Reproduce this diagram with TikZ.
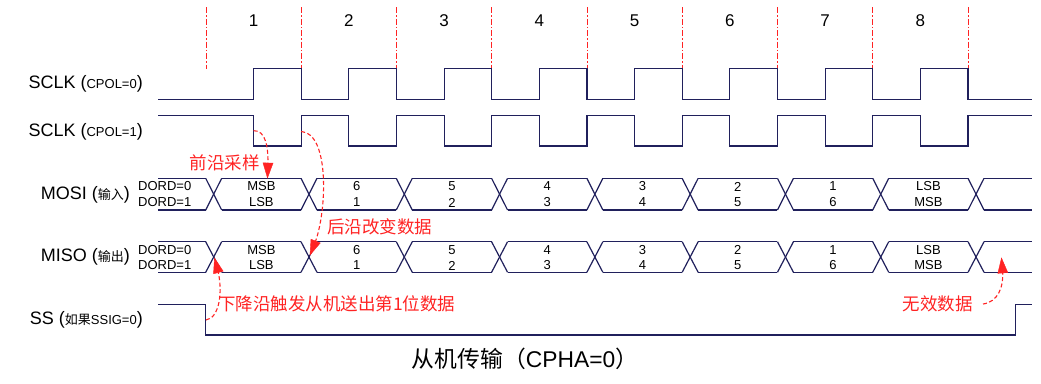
\documentclass[tikz,border=0pt]{standalone}
\usepackage{fontspec}
\setmainfont{Liberation Sans}
\newfontfamily\cjk{Noto Sans CJK SC}
\usetikzlibrary{arrows.meta,calc}
\definecolor{sig}{RGB}{32,32,92}
\definecolor{ann}{RGB}{255,35,35}
\newcommand\smtxt[1]{{\fontsize{13}{15}\selectfont #1}}
\newcommand\smcjk[1]{{\cjk\fontsize{13}{15}\selectfont #1}}
\tikzset{
  wave/.style={draw=sig, line width=1.2pt, line join=miter},
  guide/.style={draw=ann, line width=1pt, dash pattern=on 6pt off 2pt on 1.5pt off 2pt},
  siglabel/.style={inner sep=0pt, font=\fontsize{18}{21}\selectfont, text=black},
  datatxt/.style={inner sep=0pt, font=\fontsize{13}{15}\selectfont, text=black},
  numtxt/.style={inner sep=0pt, font=\fontsize{17}{20}\selectfont, text=black},
  anntxt/.style={inner sep=0pt, font=\cjk\fontsize{17.5}{20}\selectfont, text=ann},
  annarrow/.style={draw=ann, line width=1.1pt, dash pattern=on 4pt off 2.5pt},
  anntip/.style={fill=ann, draw=ann, line width=0.4pt, line join=miter},
}
\begin{document}
\begin{tikzpicture}[x=1pt,y=-1pt]
\useasboundingbox (0,0) rectangle (1041,383);

% red guide lines and bit numbers
\foreach \k in {0,...,8}{
  \draw[guide] ({206+95.25*\k},7) -- ({206+95.25*\k},68.5);
}
\foreach \k in {1,...,8}{
  \node[numtxt] (num\k) at ({206+95.25*(\k-0.5)},21) {\k};
}

% SCLK CPOL=0
\draw[wave] (158,99.5)
  \foreach \k in {0,...,7}{
    -- ({206+95.25*\k+47.625},99.5) -- ({206+95.25*\k+47.625},68.5)
    -- ({206+95.25*(\k+1)},68.5) -- ({206+95.25*(\k+1)},99.5)
  } -- (1031.7,99.5);
% SCLK CPOL=1
\draw[wave] (158,115.7)
  \foreach \k in {0,...,7}{
    -- ({206+95.25*\k+47.625},115.7) -- ({206+95.25*\k+47.625},146)
    -- ({206+95.25*(\k+1)},146) -- ({206+95.25*(\k+1)},115.7)
  } -- (1031.7,115.7);

% data buses
\foreach \T/\B in {178.3/210, 241.7/272.3}{
  \draw[wave] (158,\T) -- (205.7,\T);
  \draw[wave] (158,\B) -- (205.7,\B);
  \foreach \k in {0,...,8}{
    \draw[wave] ({213.7+95.29*\k-8},\T) -- ({213.7+95.29*\k+8},\B);
    \draw[wave] ({213.7+95.29*\k-8},\B) -- ({213.7+95.29*\k+8},\T);
  }
  \foreach \k in {0,...,7}{
    \draw[wave] ({213.7+95.29*\k+8},\T) -- ({213.7+95.29*(\k+1)-8},\T);
    \draw[wave] ({213.7+95.29*\k+8},\B) -- ({213.7+95.29*(\k+1)-8},\B);
  }
  \draw[wave] (984,\T) -- (1031.7,\T);
  \draw[wave] (984,\B) -- (1031.7,\B);
}
\foreach \k/\a/\b in {0/MSB/LSB,1/6/1,2/5/2,3/4/3,4/3/4,5/2/5,6/1/6,7/LSB/MSB}{
  \node[datatxt] (mosia\k) at ({213.7+95.29*(\k+0.5)},186.5) {\a};
  \node[datatxt] (mosib\k) at ({213.7+95.29*(\k+0.5)},202.5) {\b};
  \node[datatxt] (misoa\k) at ({213.7+95.29*(\k+0.5)},250) {\a};
  \node[datatxt] (misob\k) at ({213.7+95.29*(\k+0.5)},265.5) {\b};
}
\node[datatxt, anchor=west] (dmo0) at (138,186.5) {DORD=0};
\node[datatxt, anchor=west] (dmo1) at (138,202.5) {DORD=1};
\node[datatxt, anchor=west] (dmi0) at (138,250) {DORD=0};
\node[datatxt, anchor=west] (dmi1) at (138,265.5) {DORD=1};

% SS
\draw[wave] (158,304.3) -- (205.7,304.3) -- (205.7,335) -- (1015.7,335)
  -- (1015.7,304.3) -- (1031.7,304.3);

% signal labels
\node[siglabel, anchor=east] (l1) at (143,84) {SCLK (\smtxt{CPOL=0})};
\node[siglabel, anchor=east] (l2) at (143,131.5) {SCLK (\smtxt{CPOL=1})};
\node[siglabel, anchor=east] (l3) at (130,195) {MOSI (\smcjk{输入})};
\node[siglabel, anchor=east] (l4) at (130,257) {MISO (\smcjk{输出})};
\node[siglabel, anchor=east] (l5) at (143,320) {SS (\smcjk{如果}\smtxt{SSIG=0})};

% annotations
\coordinate (a1s) at (253.6,130.7);
\coordinate (a1c) at (268.5,148);
\coordinate (a1e) at (267.5,178);
\coordinate (a2s) at (301.2,131.5);
\coordinate (a2c) at (327,213);
\coordinate (a2e) at (310,255);
\coordinate (a3s) at (206,320);
\coordinate (a3c) at (223,290);
\coordinate (a3e) at (214.5,258);
\coordinate (a4s) at (983,304);
\coordinate (a4c) at (1004,287);
\coordinate (a4e) at (1001.5,258);
\draw[annarrow] (a1s) .. controls (266,130) and (a1c) .. ($(a1e)!12pt!(a1c)$);
\draw[annarrow] (a2s) .. controls (330,133) and (a2c) .. ($(a2e)!12pt!(a2c)$);
\draw[annarrow] (a3s) .. controls (220,318) and (a3c) .. ($(a3e)!12pt!(a3c)$);
\draw[annarrow] (a4s) .. controls (998,302) and (a4c) .. ($(a4e)!12pt!(a4c)$);
\foreach \n in {1,2,3,4}{
  \filldraw[anntip] (a\n e)
    -- ($(a\n e)!15pt!(a\n c)!5pt!90:(a\n e)$)
    -- ($(a\n e)!15pt!(a\n c)!5pt!-90:(a\n e)$) -- cycle;
}

\node[anntxt, anchor=east] (t1) at (260,163) {前沿采样};
\node[anntxt, anchor=west] (t2) at (327,226.5) {后沿改变数据};
\node[anntxt, anchor=west] (t3) at (218,304) {下降沿触发从机送出第1位数据};
\node[anntxt, anchor=east] (t4) at (973,304) {无效数据};

% title
\node[inner sep=0pt, font=\fontsize{22.8}{26}\selectfont] (title) at (525,359)
  {{\cjk 从机传输（}CPHA=0{\cjk ）}};
\end{tikzpicture}
\end{document}
